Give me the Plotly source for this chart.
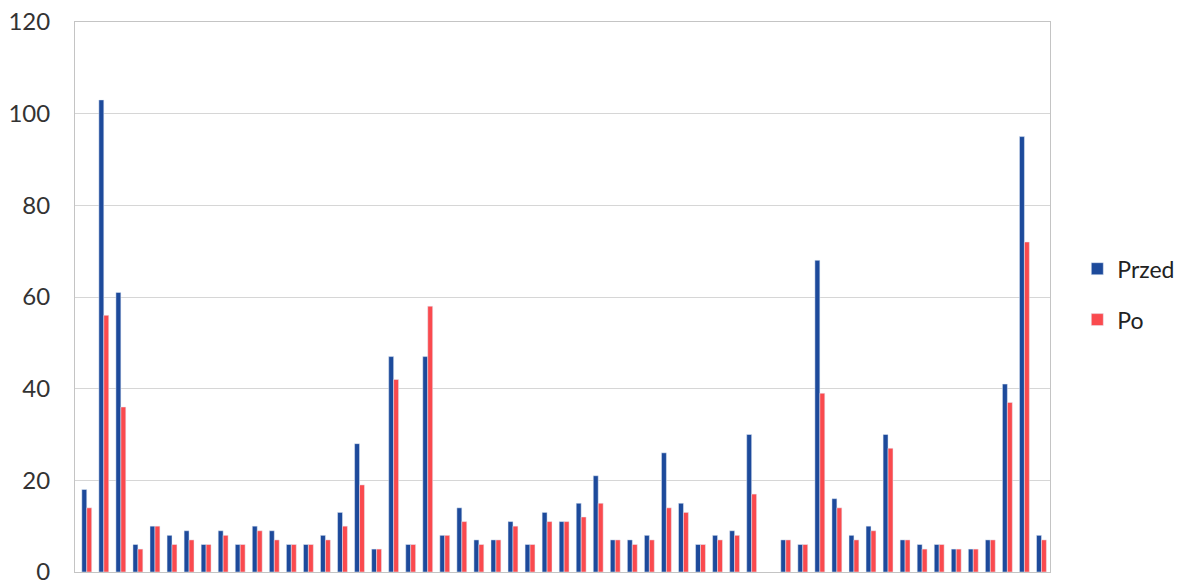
import plotly.graph_objects as go

# Measurement index (1..57) and values before / after
categories = list(range(1, 58))
przed = [18, 103, 61, 6, 10, 8, 9, 6, 9, 6, 10, 9, 6, 6, 8, 13, 28, 5, 47, 6,
         47, 8, 14, 7, 7, 11, 6, 13, 11, 15, 21, 7, 7, 8, 26, 15, 6, 8, 9, 30,
         None, 7, 6, 68, 16, 8, 10, 30, 7, 6, 6, 5, 5, 7, 41, 95, 8]
po = [14, 56, 36, 5, 10, 6, 7, 6, 8, 6, 9, 7, 6, 6, 7, 10, 19, 5, 42, 6,
      58, 8, 11, 6, 7, 10, 6, 11, 11, 12, 15, 7, 6, 7, 14, 13, 6, 7, 8, 17,
      None, 7, 6, 39, 14, 7, 9, 27, 7, 5, 6, 5, 5, 7, 37, 72, 7]
y_ticks = [0, 20, 40, 60, 80, 100, 120]

BLUE = "#1d4a9b"
RED = "#fa4a4e"
GRID = "#d6d6d6"
FONT = "Lato, 'Open Sans', sans-serif"

fig = go.Figure()
fig.add_trace(go.Bar(x=categories, y=przed, name="Przed", marker_color=BLUE,
                     legendgroup="a"))
fig.add_trace(go.Bar(x=categories, y=po, name="Po", marker_color=RED,
                     legendgroup="b"))

fig.update_layout(
    width=1178, height=585,
    margin=dict(l=75, r=128, t=22, b=13, autoexpand=False),
    paper_bgcolor="white", plot_bgcolor="white",
    barmode="group", bargap=0.42, bargroupgap=0.0,
    font=dict(family=FONT, size=24, color="#333333"),
    legend=dict(x=1.028, y=0.505, xanchor="left", yanchor="middle",
                font=dict(size=23, color="#222222"),
                tracegroupgap=18, bgcolor="rgba(0,0,0,0)"),
    xaxis=dict(range=[0.31, 57.5], showticklabels=False, ticks="",
               showgrid=False, zeroline=False,
               showline=True, linecolor="#c4c4c4", linewidth=1, mirror=True),
    yaxis=dict(range=[0, 120], tickvals=y_ticks, ticks="",
               showgrid=True, gridcolor=GRID, gridwidth=1, zeroline=False,
               showline=True, linecolor="#c4c4c4", linewidth=1, mirror=True,
               ticklabelstandoff=19, ticklabeloverflow="allow",
               tickfont=dict(size=24, color="#333333")),
)

fig.write_html("out.html")
